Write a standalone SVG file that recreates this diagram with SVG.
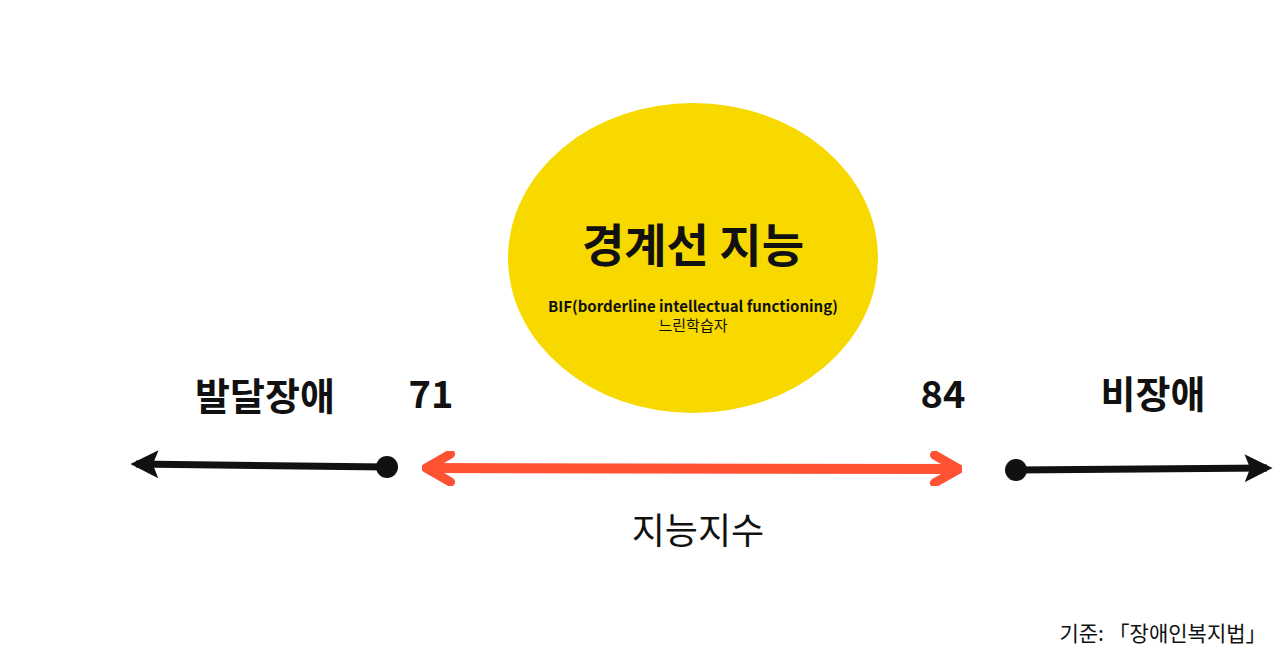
<svg xmlns="http://www.w3.org/2000/svg" width="1280" height="659" viewBox="0 0 1280 659">
<style>
text{font-family:"Noto Sans CJK KR","Noto Sans",sans-serif;fill:#111;text-anchor:middle}
.b{font-weight:700}
</style>
<defs>
<marker id="bk" viewBox="0 0 10 10" refX="8" refY="5" markerWidth="4" markerHeight="4" orient="auto-start-reverse" markerUnits="strokeWidth"><path d="M0,0 L10,5 L0,10 L2,5 Z" fill="#111"/></marker>
<marker id="rd" viewBox="0 0 10 10" refX="9" refY="5" markerWidth="3.5" markerHeight="3.5" orient="auto-start-reverse" markerUnits="strokeWidth"><path d="M2,1 L9,5 L2,9" fill="none" stroke="#FF5233" stroke-width="2.6" stroke-linejoin="round" stroke-linecap="round"/></marker>
</defs>
<rect width="1280" height="659" fill="#fff"/>
<g id="center">
<ellipse cx="693" cy="258" rx="185" ry="155" fill="#F7D900"/>
<text x="693" y="262" class="b" font-size="46">경계선 지능</text>
<text x="693" y="312" class="b" font-size="15">BIF(borderline intellectual functioning)</text>
<text x="693" y="331" font-size="15">느린학습자</text>
</g>
<g id="labels">
<text x="265" y="410" class="b" font-size="38">발달장애</text>
<text x="431" y="408" class="b" font-size="38">71</text>
<text x="943" y="408" class="b" font-size="38">84</text>
<text x="1153" y="408" class="b" font-size="38">비장애</text>
<text x="698" y="544" font-size="36">지능지수</text>
<text x="1163" y="641" font-size="21">기준: 「장애인복지법」</text>
</g>
<g id="connectors">
<line x1="387" y1="467" x2="136" y2="464" stroke="#111" stroke-width="7" marker-end="url(#bk)"/>
<circle cx="387" cy="467" r="11" fill="#111"/>
<line x1="426" y1="468" x2="959" y2="469" stroke="#FF5233" stroke-width="10" marker-start="url(#rd)" marker-end="url(#rd)"/>
<line x1="1016" y1="470" x2="1267" y2="468" stroke="#111" stroke-width="7" marker-end="url(#bk)"/>
<circle cx="1016" cy="470" r="11" fill="#111"/>
</g>
</svg>
